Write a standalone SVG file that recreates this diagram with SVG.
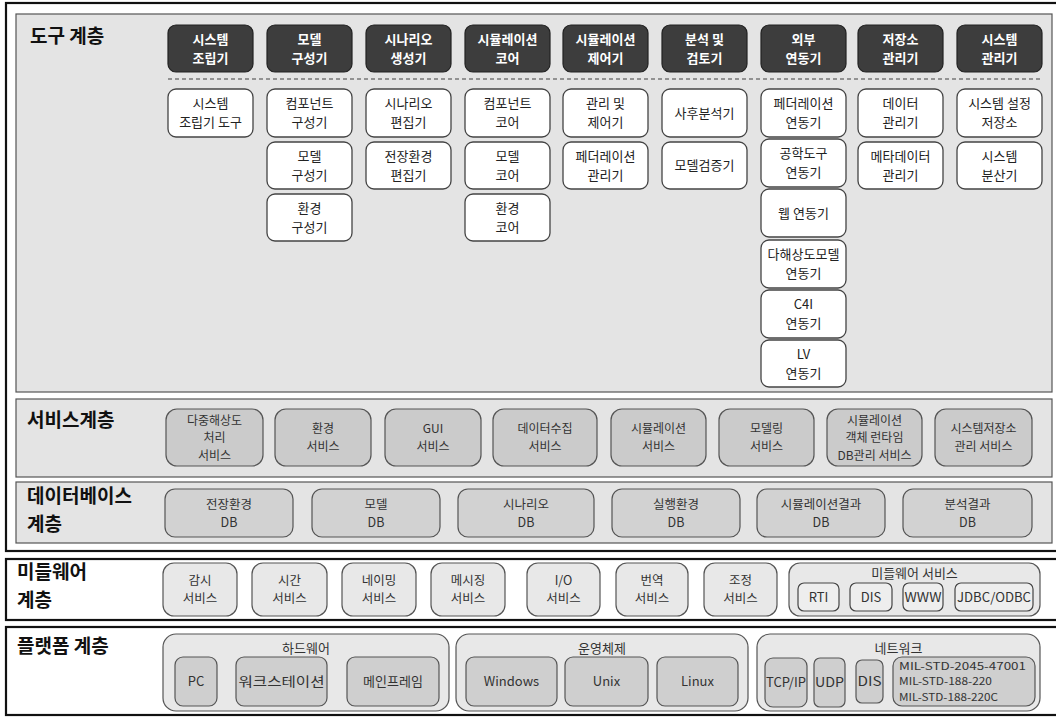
<svg xmlns="http://www.w3.org/2000/svg" width="1056" height="717" viewBox="0 0 1056 717">
<style>
.frame{fill:#fff;stroke:#111;stroke-width:2.2}
.layer{fill:#e4e4e4;stroke:#555;stroke-width:1.2}
.hdr{fill:#3d3d3d;stroke:#222;stroke-width:1.2}
.tool{fill:#fff;stroke:#444;stroke-width:1.3}
.svc{fill:#cbcbcb;stroke:#555;stroke-width:1.2}
.db{fill:#d2d2d2;stroke:#555;stroke-width:1.2}
.mw{fill:#e8e8e8;stroke:#555;stroke-width:1.2}
.mwi{fill:#eeeeee;stroke:#444;stroke-width:1.2}
.pg{fill:#e8e8e8;stroke:#555;stroke-width:1.2}
.pi{fill:#cfcfcf;stroke:#555;stroke-width:1.2}
text{font-family:"Noto Sans CJK KR","Noto Sans",sans-serif}
.title{font-size:19px;font-weight:bold;fill:#111}
.h{font-size:13px;font-weight:bold;fill:#fff;text-anchor:middle}
.t{font-size:13px;fill:#222;text-anchor:middle}
.s{font-size:12px;fill:#333;text-anchor:middle}
.d{font-size:12.5px;fill:#333;text-anchor:middle}
.p{font-size:13px;fill:#333;text-anchor:middle}
.m{font-size:10.5px;fill:#333}
.sep{stroke:#777;stroke-width:1.5;stroke-dasharray:4 3;fill:none}
</style>

<!-- frames -->
<g id="frames">
<rect class="frame" x="6" y="3" width="1052" height="548"/>
<rect class="frame" x="6" y="559" width="1052" height="61"/>
<rect class="frame" x="6" y="627" width="1052" height="88"/>
<rect class="layer" x="16" y="14" width="1036" height="378"/>
<rect class="layer" x="16" y="399" width="1036" height="78"/>
<rect class="layer" x="16" y="482" width="1036" height="61"/>
</g>

<g id="titles">
<text class="title" x="30" y="43">도구 계층</text>
<text class="title" x="27" y="427">서비스계층</text>
<text class="title"><tspan x="27" y="503">데이터베이스</tspan><tspan x="27" y="530.7">계층</tspan></text>
<text class="title"><tspan x="17" y="579">미들웨어</tspan><tspan x="17" y="606.7">계층</tspan></text>
<text class="title" x="17" y="653">플랫폼 계층</text>
</g>

<g id="separator">
<line class="sep" x1="168" y1="79" x2="1043" y2="79"/>
</g>
<g id="connectors"/>

<!-- tool layer headers -->
<g id="hdr-system-assembler"><rect class="hdr" x="168" y="25" width="85" height="47" rx="8"/><text class="h"><tspan x="210.5" y="43.8">시스템</tspan><tspan x="210.5" y="62.8">조립기</tspan></text></g>
<g id="hdr-model-composer"><rect class="hdr" x="267" y="25" width="85" height="47" rx="8"/><text class="h"><tspan x="309.5" y="43.8">모델</tspan><tspan x="309.5" y="62.8">구성기</tspan></text></g>
<g id="hdr-scenario-generator"><rect class="hdr" x="366" y="25" width="85" height="47" rx="8"/><text class="h"><tspan x="408.5" y="43.8">시나리오</tspan><tspan x="408.5" y="62.8">생성기</tspan></text></g>
<g id="hdr-sim-core"><rect class="hdr" x="465" y="25" width="85" height="47" rx="8"/><text class="h"><tspan x="507.5" y="43.8">시뮬레이션</tspan><tspan x="507.5" y="62.8">코어</tspan></text></g>
<g id="hdr-sim-controller"><rect class="hdr" x="563" y="25" width="85" height="47" rx="8"/><text class="h"><tspan x="605.5" y="43.8">시뮬레이션</tspan><tspan x="605.5" y="62.8">제어기</tspan></text></g>
<g id="hdr-analysis"><rect class="hdr" x="662" y="25" width="85" height="47" rx="8"/><text class="h"><tspan x="704.5" y="43.8">분석 및</tspan><tspan x="704.5" y="62.8">검토기</tspan></text></g>
<g id="hdr-external"><rect class="hdr" x="761" y="25" width="85" height="47" rx="8"/><text class="h"><tspan x="803.5" y="43.8">외부</tspan><tspan x="803.5" y="62.8">연동기</tspan></text></g>
<g id="hdr-repository"><rect class="hdr" x="858" y="25" width="85" height="47" rx="8"/><text class="h"><tspan x="900.5" y="43.8">저장소</tspan><tspan x="900.5" y="62.8">관리기</tspan></text></g>
<g id="hdr-system-manager"><rect class="hdr" x="957" y="25" width="85" height="47" rx="8"/><text class="h"><tspan x="999.5" y="43.8">시스템</tspan><tspan x="999.5" y="62.8">관리기</tspan></text></g>

<!-- tool layer tools -->
<g id="tool-c1-1"><rect class="tool" x="168" y="89" width="85" height="48" rx="8"/><text class="t"><tspan x="210.5" y="108.3">시스템</tspan><tspan x="210.5" y="127.3">조립기 도구</tspan></text></g>

<g id="tool-c2-1"><rect class="tool" x="267" y="89" width="85" height="48" rx="8"/><text class="t"><tspan x="309.5" y="108.3">컴포넌트</tspan><tspan x="309.5" y="127.3">구성기</tspan></text></g>
<g id="tool-c2-2"><rect class="tool" x="267" y="142" width="85" height="47" rx="8"/><text class="t"><tspan x="309.5" y="160.8">모델</tspan><tspan x="309.5" y="179.8">구성기</tspan></text></g>
<g id="tool-c2-3"><rect class="tool" x="267" y="194" width="85" height="47" rx="8"/><text class="t"><tspan x="309.5" y="212.8">환경</tspan><tspan x="309.5" y="231.8">구성기</tspan></text></g>

<g id="tool-c3-1"><rect class="tool" x="366" y="89" width="85" height="48" rx="8"/><text class="t"><tspan x="408.5" y="108.3">시나리오</tspan><tspan x="408.5" y="127.3">편집기</tspan></text></g>
<g id="tool-c3-2"><rect class="tool" x="366" y="142" width="85" height="47" rx="8"/><text class="t"><tspan x="408.5" y="160.8">전장환경</tspan><tspan x="408.5" y="179.8">편집기</tspan></text></g>

<g id="tool-c4-1"><rect class="tool" x="465" y="89" width="85" height="48" rx="8"/><text class="t"><tspan x="507.5" y="108.3">컴포넌트</tspan><tspan x="507.5" y="127.3">코어</tspan></text></g>
<g id="tool-c4-2"><rect class="tool" x="465" y="142" width="85" height="47" rx="8"/><text class="t"><tspan x="507.5" y="160.8">모델</tspan><tspan x="507.5" y="179.8">코어</tspan></text></g>
<g id="tool-c4-3"><rect class="tool" x="465" y="194" width="85" height="47" rx="8"/><text class="t"><tspan x="507.5" y="212.8">환경</tspan><tspan x="507.5" y="231.8">코어</tspan></text></g>

<g id="tool-c5-1"><rect class="tool" x="563" y="89" width="85" height="48" rx="8"/><text class="t"><tspan x="605.5" y="108.3">관리 및</tspan><tspan x="605.5" y="127.3">제어기</tspan></text></g>
<g id="tool-c5-2"><rect class="tool" x="563" y="142" width="85" height="47" rx="8"/><text class="t"><tspan x="605.5" y="160.8">페더레이션</tspan><tspan x="605.5" y="179.8">관리기</tspan></text></g>

<g id="tool-c6-1"><rect class="tool" x="662" y="89" width="85" height="48" rx="8"/><text class="t" x="704.5" y="117.8">사후분석기</text></g>
<g id="tool-c6-2"><rect class="tool" x="662" y="142" width="85" height="47" rx="8"/><text class="t" x="704.5" y="170.3">모델검증기</text></g>

<g id="tool-c7-1"><rect class="tool" x="761" y="89" width="85" height="48" rx="8"/><text class="t"><tspan x="803.5" y="108.3">페더레이션</tspan><tspan x="803.5" y="127.3">연동기</tspan></text></g>
<g id="tool-c7-2"><rect class="tool" x="761" y="139" width="85" height="48" rx="8"/><text class="t"><tspan x="803.5" y="158.3">공학도구</tspan><tspan x="803.5" y="177.3">연동기</tspan></text></g>
<g id="tool-c7-3"><rect class="tool" x="761" y="189" width="85" height="48" rx="8"/><text class="t" x="803.5" y="217.8">웹 연동기</text></g>
<g id="tool-c7-4"><rect class="tool" x="761" y="240" width="85" height="48" rx="8"/><text class="t"><tspan x="803.5" y="259.3">다해상도모델</tspan><tspan x="803.5" y="278.3">연동기</tspan></text></g>
<g id="tool-c7-5"><rect class="tool" x="761" y="290" width="85" height="48" rx="8"/><text class="t"><tspan x="803.5" y="309.3">C4I</tspan><tspan x="803.5" y="328.3">연동기</tspan></text></g>
<g id="tool-c7-6"><rect class="tool" x="761" y="340" width="85" height="47" rx="8"/><text class="t"><tspan x="803.5" y="358.8">LV</tspan><tspan x="803.5" y="377.8">연동기</tspan></text></g>

<g id="tool-c8-1"><rect class="tool" x="858" y="89" width="85" height="48" rx="8"/><text class="t"><tspan x="900.5" y="108.3">데이터</tspan><tspan x="900.5" y="127.3">관리기</tspan></text></g>
<g id="tool-c8-2"><rect class="tool" x="858" y="142" width="85" height="47" rx="8"/><text class="t"><tspan x="900.5" y="160.8">메타데이터</tspan><tspan x="900.5" y="179.8">관리기</tspan></text></g>

<g id="tool-c9-1"><rect class="tool" x="957" y="89" width="85" height="48" rx="8"/><text class="t"><tspan x="999.5" y="108.3">시스템 설정</tspan><tspan x="999.5" y="127.3">저장소</tspan></text></g>
<g id="tool-c9-2"><rect class="tool" x="957" y="142" width="85" height="47" rx="8"/><text class="t"><tspan x="999.5" y="160.8">시스템</tspan><tspan x="999.5" y="179.8">분산기</tspan></text></g>

<!-- service layer -->
<g id="svc-1"><rect class="svc" x="166" y="409" width="97" height="57" rx="11"/><text class="s"><tspan x="214.5" y="424.5">다중해상도</tspan><tspan x="214.5" y="442">처리</tspan><tspan x="214.5" y="459.5">서비스</tspan></text></g>
<g id="svc-2"><rect class="svc" x="275" y="409" width="96" height="57" rx="11"/><text class="s"><tspan x="323" y="433.2">환경</tspan><tspan x="323" y="450.7">서비스</tspan></text></g>
<g id="svc-3"><rect class="svc" x="385" y="409" width="96" height="57" rx="11"/><text class="s"><tspan x="433" y="433.2">GUI</tspan><tspan x="433" y="450.7">서비스</tspan></text></g>
<g id="svc-4"><rect class="svc" x="493" y="409" width="104" height="57" rx="11"/><text class="s"><tspan x="545" y="433.2">데이터수집</tspan><tspan x="545" y="450.7">서비스</tspan></text></g>
<g id="svc-5"><rect class="svc" x="611" y="409" width="95" height="57" rx="11"/><text class="s"><tspan x="658.5" y="433.2">시뮬레이션</tspan><tspan x="658.5" y="450.7">서비스</tspan></text></g>
<g id="svc-6"><rect class="svc" x="719" y="409" width="95" height="57" rx="11"/><text class="s"><tspan x="766.5" y="433.2">모델링</tspan><tspan x="766.5" y="450.7">서비스</tspan></text></g>
<g id="svc-7"><rect class="svc" x="827" y="409" width="95" height="57" rx="11"/><text class="s"><tspan x="874.5" y="424.5">시뮬레이션</tspan><tspan x="874.5" y="442">객체 런타임</tspan><tspan x="874.5" y="459.5">DB관리 서비스</tspan></text></g>
<g id="svc-8"><rect class="svc" x="935" y="409" width="97" height="57" rx="11"/><text class="s"><tspan x="983.5" y="433.2">시스템저장소</tspan><tspan x="983.5" y="450.7">관리 서비스</tspan></text></g>

<!-- database layer -->
<g id="db-1"><rect class="db" x="165" y="489" width="128" height="48" rx="10"/><text class="d"><tspan x="229" y="508.9">전장환경</tspan><tspan x="229" y="527.1">DB</tspan></text></g>
<g id="db-2"><rect class="db" x="312" y="489" width="128" height="48" rx="10"/><text class="d"><tspan x="376" y="508.9">모델</tspan><tspan x="376" y="527.1">DB</tspan></text></g>
<g id="db-3"><rect class="db" x="458" y="489" width="136" height="48" rx="10"/><text class="d"><tspan x="526" y="508.9">시나리오</tspan><tspan x="526" y="527.1">DB</tspan></text></g>
<g id="db-4"><rect class="db" x="612" y="489" width="128" height="48" rx="10"/><text class="d"><tspan x="676" y="508.9">실행환경</tspan><tspan x="676" y="527.1">DB</tspan></text></g>
<g id="db-5"><rect class="db" x="757" y="489" width="128" height="48" rx="10"/><text class="d"><tspan x="821" y="508.9">시뮬레이션결과</tspan><tspan x="821" y="527.1">DB</tspan></text></g>
<g id="db-6"><rect class="db" x="903" y="489" width="129" height="48" rx="10"/><text class="d"><tspan x="967.5" y="508.9">분석결과</tspan><tspan x="967.5" y="527.1">DB</tspan></text></g>

<!-- middleware layer -->
<g id="mw-1"><rect class="mw" x="163" y="563" width="74" height="53" rx="11"/><text class="d"><tspan x="200" y="585">감시</tspan><tspan x="200" y="603.2">서비스</tspan></text></g>
<g id="mw-2"><rect class="mw" x="252" y="563" width="75" height="53" rx="11"/><text class="d"><tspan x="289.5" y="585">시간</tspan><tspan x="289.5" y="603.2">서비스</tspan></text></g>
<g id="mw-3"><rect class="mw" x="342" y="563" width="74" height="53" rx="11"/><text class="d"><tspan x="379" y="585">네이밍</tspan><tspan x="379" y="603.2">서비스</tspan></text></g>
<g id="mw-4"><rect class="mw" x="431" y="563" width="74" height="53" rx="11"/><text class="d"><tspan x="468" y="585">메시징</tspan><tspan x="468" y="603.2">서비스</tspan></text></g>
<g id="mw-5"><rect class="mw" x="527" y="563" width="73" height="53" rx="11"/><text class="d"><tspan x="563.5" y="585">I/O</tspan><tspan x="563.5" y="603.2">서비스</tspan></text></g>
<g id="mw-6"><rect class="mw" x="616" y="563" width="72" height="53" rx="11"/><text class="d"><tspan x="652" y="585">번역</tspan><tspan x="652" y="603.2">서비스</tspan></text></g>
<g id="mw-7"><rect class="mw" x="704" y="563" width="73" height="53" rx="11"/><text class="d"><tspan x="740.5" y="585">조정</tspan><tspan x="740.5" y="603.2">서비스</tspan></text></g>
<g id="mw-services">
<rect class="mw" x="789" y="563" width="251" height="53" rx="11"/>
<text class="p" x="914.5" y="578">미들웨어 서비스</text>
<g id="mw-rti"><rect class="mwi" x="798" y="583" width="41" height="28" rx="6"/><text class="p" x="818.5" y="602">RTI</text></g>
<g id="mw-dis"><rect class="mwi" x="850" y="583" width="42" height="28" rx="6"/><text class="p" x="871" y="602">DIS</text></g>
<g id="mw-www"><rect class="mwi" x="903" y="583" width="40" height="28" rx="6"/><text class="p" x="923" y="602" textLength="37" lengthAdjust="spacingAndGlyphs">WWW</text></g>
<g id="mw-jdbc"><rect class="mwi" x="955" y="583" width="78" height="28" rx="6"/><text class="p" x="994" y="602" textLength="74" lengthAdjust="spacingAndGlyphs">JDBC/ODBC</text></g>
</g>

<!-- platform layer -->
<g id="pf-hardware">
<rect class="pg" x="163" y="634" width="286" height="77" rx="13"/>
<text class="p" x="306" y="653">하드웨어</text>
<g id="pf-pc"><rect class="pi" x="175" y="657" width="42" height="49" rx="8"/><text class="p" x="196" y="686">PC</text></g>
<g id="pf-ws"><rect class="pi" x="236" y="657" width="91" height="49" rx="8"/><text class="p" x="281.5" y="686" textLength="86" lengthAdjust="spacingAndGlyphs">워크스테이션</text></g>
<g id="pf-mf"><rect class="pi" x="347" y="657" width="92" height="49" rx="8"/><text class="p" x="393" y="686">메인프레임</text></g>
</g>
<g id="pf-os">
<rect class="pg" x="456" y="634" width="292" height="77" rx="13"/>
<text class="p" x="602" y="653">운영체제</text>
<g id="pf-win"><rect class="pi" x="466" y="657" width="91" height="49" rx="8"/><text class="p" x="511.5" y="686">Windows</text></g>
<g id="pf-unix"><rect class="pi" x="565" y="657" width="83" height="49" rx="8"/><text class="p" x="606.5" y="686">Unix</text></g>
<g id="pf-linux"><rect class="pi" x="657" y="657" width="81" height="49" rx="8"/><text class="p" x="697.5" y="686">Linux</text></g>
</g>
<g id="pf-network">
<rect class="pg" x="757" y="634" width="283" height="77" rx="13"/>
<text class="p" x="898.5" y="653">네트워크</text>
<g id="pf-tcp"><rect class="pi" x="765" y="658" width="42" height="49" rx="8"/><text class="p" x="786" y="687" textLength="40" lengthAdjust="spacingAndGlyphs">TCP/IP</text></g>
<g id="pf-udp"><rect class="pi" x="814" y="658" width="31" height="49" rx="6"/><text class="p" x="829.5" y="687" textLength="29" lengthAdjust="spacingAndGlyphs">UDP</text></g>
<g id="pf-dis"><rect class="pi" x="856" y="660" width="27" height="43" rx="6"/><text class="p" x="869.5" y="686" textLength="24" lengthAdjust="spacingAndGlyphs">DIS</text></g>
<g id="pf-mil"><rect class="pi" x="893" y="657" width="142" height="49" rx="9"/>
<text class="m"><tspan x="899" y="670" textLength="127" lengthAdjust="spacingAndGlyphs">MIL-STD-2045-47001</tspan><tspan x="899" y="685.3" textLength="93" lengthAdjust="spacingAndGlyphs">MIL-STD-188-220</tspan><tspan x="899" y="700.6" textLength="99" lengthAdjust="spacingAndGlyphs">MIL-STD-188-220C</tspan></text>
</g>
</g>
</svg>
